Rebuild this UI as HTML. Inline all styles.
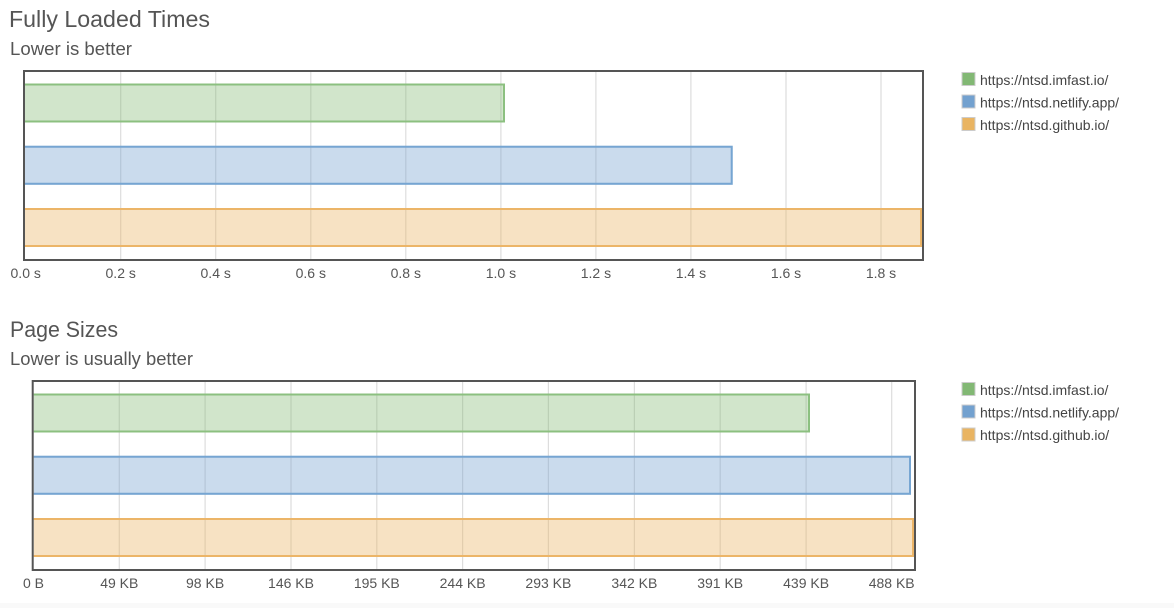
<!DOCTYPE html>
<html>
<head>
<meta charset="utf-8">
<style>
  html, body { margin: 0; padding: 0; background: #ffffff; }
  body { width: 1174px; height: 608px; overflow: hidden; }
  svg { display: block; }
  text { font-family: "Liberation Sans", Arial, sans-serif; }
</style>
</head>
<body>
<svg width="1174" height="608" viewBox="0 0 1174 608" xmlns="http://www.w3.org/2000/svg">
  <rect x="0" y="0" width="1174" height="608" fill="#ffffff"/>
  <rect x="0" y="603" width="1174" height="5" fill="#f9f9f9"/>

  <!-- ===== Chart 1: Fully Loaded Times ===== -->
  <text x="9" y="27" font-size="23" fill="#555555" textLength="201" lengthAdjust="spacingAndGlyphs">Fully Loaded Times</text>
  <text x="10" y="55" font-size="18" fill="#555555" textLength="122" lengthAdjust="spacingAndGlyphs">Lower is better</text>

  <!-- gridlines -->
  <g stroke="#dddddd" stroke-width="1.2">
    <line x1="120.7" y1="72" x2="120.7" y2="259"/>
    <line x1="215.7" y1="72" x2="215.7" y2="259"/>
    <line x1="310.8" y1="72" x2="310.8" y2="259"/>
    <line x1="405.8" y1="72" x2="405.8" y2="259"/>
    <line x1="500.9" y1="72" x2="500.9" y2="259"/>
    <line x1="595.9" y1="72" x2="595.9" y2="259"/>
    <line x1="690.9" y1="72" x2="690.9" y2="259"/>
    <line x1="786.0" y1="72" x2="786.0" y2="259"/>
    <line x1="881.0" y1="72" x2="881.0" y2="259"/>
  </g>

  <!-- bars -->
  <rect x="25" y="83.5" width="480" height="39" fill="rgba(130,184,114,0.37)"/>
  <path d="M25 84.5 H504 V121.5 H25" fill="none" stroke="#8cc080" stroke-width="2"/>

  <rect x="25" y="145.8" width="707.7" height="39" fill="rgba(115,161,207,0.38)"/>
  <path d="M25 146.8 H731.7 V183.8 H25" fill="none" stroke="#76a5d2" stroke-width="2"/>

  <rect x="25" y="208" width="897" height="39" fill="rgba(233,180,98,0.38)"/>
  <path d="M25 209 H921 V246 H25" fill="none" stroke="#ecb568" stroke-width="2"/>

  <!-- axis box -->
  <rect x="24" y="71" width="899" height="189" fill="none" stroke="#555555" stroke-width="2"/>

  <!-- tick labels -->
  <g font-size="14" fill="#555555" text-anchor="middle">
    <text x="25.7" y="278">0.0 s</text>
    <text x="120.7" y="278">0.2 s</text>
    <text x="215.7" y="278">0.4 s</text>
    <text x="310.8" y="278">0.6 s</text>
    <text x="405.8" y="278">0.8 s</text>
    <text x="500.9" y="278">1.0 s</text>
    <text x="595.9" y="278">1.2 s</text>
    <text x="690.9" y="278">1.4 s</text>
    <text x="786.0" y="278">1.6 s</text>
    <text x="881.0" y="278">1.8 s</text>
  </g>

  <!-- legend -->
  <g>
    <rect x="961.5" y="72" width="14" height="14" fill="#cccccc"/>
    <rect x="962.5" y="73" width="12" height="12" fill="#82b874"/>
    <rect x="961.5" y="94.5" width="14" height="14" fill="#cccccc"/>
    <rect x="962.5" y="95.5" width="12" height="12" fill="#73a1cf"/>
    <rect x="961.5" y="117" width="14" height="14" fill="#cccccc"/>
    <rect x="962.5" y="118" width="12" height="12" fill="#e9b462"/>
  </g>
  <g font-size="14" fill="#444444">
    <text x="980" y="85">https://ntsd.imfast.io/</text>
    <text x="980" y="107.5">https://ntsd.netlify.app/</text>
    <text x="980" y="130">https://ntsd.github.io/</text>
  </g>

  <!-- ===== Chart 2: Page Sizes ===== -->
  <text x="10" y="337" font-size="22" fill="#555555" textLength="108" lengthAdjust="spacingAndGlyphs">Page Sizes</text>
  <text x="10" y="365" font-size="18" fill="#555555" textLength="183" lengthAdjust="spacingAndGlyphs">Lower is usually better</text>

  <g stroke="#dddddd" stroke-width="1.2">
    <line x1="119.3" y1="382" x2="119.3" y2="569"/>
    <line x1="205.1" y1="382" x2="205.1" y2="569"/>
    <line x1="291.0" y1="382" x2="291.0" y2="569"/>
    <line x1="376.8" y1="382" x2="376.8" y2="569"/>
    <line x1="462.6" y1="382" x2="462.6" y2="569"/>
    <line x1="548.4" y1="382" x2="548.4" y2="569"/>
    <line x1="634.4" y1="382" x2="634.4" y2="569"/>
    <line x1="720.2" y1="382" x2="720.2" y2="569"/>
    <line x1="806.1" y1="382" x2="806.1" y2="569"/>
    <line x1="891.7" y1="382" x2="891.7" y2="569"/>
  </g>

  <rect x="33.7" y="393.5" width="776.3" height="39" fill="rgba(130,184,114,0.37)"/>
  <path d="M33.7 394.5 H809 V431.5 H33.7" fill="none" stroke="#8cc080" stroke-width="2"/>

  <rect x="33.7" y="455.8" width="877.3" height="39" fill="rgba(115,161,207,0.38)"/>
  <path d="M33.7 456.8 H910 V493.8 H33.7" fill="none" stroke="#76a5d2" stroke-width="2"/>

  <rect x="33.7" y="518" width="880.3" height="39" fill="rgba(233,180,98,0.38)"/>
  <path d="M33.7 519 H913 V556 H33.7" fill="none" stroke="#ecb568" stroke-width="2"/>

  <rect x="32.7" y="381" width="882.3" height="189" fill="none" stroke="#555555" stroke-width="2"/>

  <g font-size="14" fill="#555555" text-anchor="middle">
    <text x="33.5" y="588">0 B</text>
    <text x="119.3" y="588">49 KB</text>
    <text x="205.1" y="588">98 KB</text>
    <text x="291.0" y="588">146 KB</text>
    <text x="376.8" y="588">195 KB</text>
    <text x="462.6" y="588">244 KB</text>
    <text x="548.4" y="588">293 KB</text>
    <text x="634.4" y="588">342 KB</text>
    <text x="720.2" y="588">391 KB</text>
    <text x="806.1" y="588">439 KB</text>
    <text x="891.7" y="588">488 KB</text>
  </g>

  <g>
    <rect x="961.5" y="382" width="14" height="14" fill="#cccccc"/>
    <rect x="962.5" y="383" width="12" height="12" fill="#82b874"/>
    <rect x="961.5" y="404.5" width="14" height="14" fill="#cccccc"/>
    <rect x="962.5" y="405.5" width="12" height="12" fill="#73a1cf"/>
    <rect x="961.5" y="427.5" width="14" height="14" fill="#cccccc"/>
    <rect x="962.5" y="428.5" width="12" height="12" fill="#e9b462"/>
  </g>
  <g font-size="14" fill="#444444">
    <text x="980" y="395">https://ntsd.imfast.io/</text>
    <text x="980" y="417.5">https://ntsd.netlify.app/</text>
    <text x="980" y="440">https://ntsd.github.io/</text>
  </g>
</svg>
</body>
</html>
